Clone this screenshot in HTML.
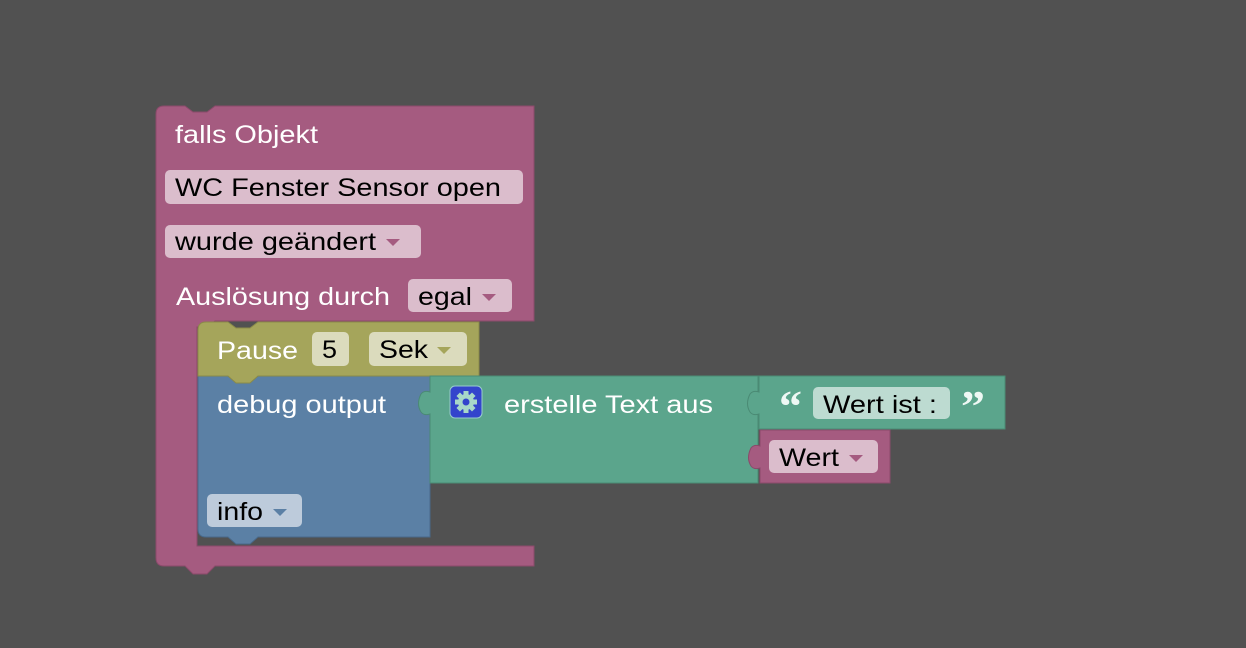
<!DOCTYPE html>
<html><head><meta charset="utf-8">
<style>
html,body{margin:0;padding:0;background:#515151;width:1246px;height:648px;overflow:hidden}
svg text{font-family:"Liberation Sans",sans-serif;font-size:25px}
</style></head><body>
<svg width="1246" height="648" viewBox="0 0 1246 648" xmlns="http://www.w3.org/2000/svg">
<!-- outer pink C block -->
<path d="M164,106 L185,106 L193,112 L207,112 L215,106 L534,106 L534,321 L215,321 L207,327 L197,327 L197,546 L534,546 L534,566 L215,566 L207,574 L193,574 L185,566 L164,566 Q156,566 156,558 L156,114 Q156,106 164,106 Z" fill="#a55b80" stroke="#8a4a6a" stroke-width="1"/>
<text x="175" y="143" fill="#fff" textLength="143" lengthAdjust="spacingAndGlyphs">falls Objekt</text>
<rect x="165" y="170" width="358" height="34" rx="5" fill="#dbbdcc"/>
<text x="175" y="196" fill="#000" textLength="326" lengthAdjust="spacingAndGlyphs">WC Fenster Sensor open</text>
<rect x="165" y="225" width="256" height="33" rx="5" fill="#dbbdcc"/>
<text x="175" y="250" fill="#000" textLength="201" lengthAdjust="spacingAndGlyphs">wurde geändert</text>
<path d="M386,239 L400,239 L393,246 Z" fill="#a55b80"/>
<text x="176" y="305" fill="#fff" textLength="214" lengthAdjust="spacingAndGlyphs">Auslösung durch</text>
<rect x="408" y="279" width="104" height="33" rx="5" fill="#dbbdcc"/>
<text x="418" y="305" fill="#000" textLength="54" lengthAdjust="spacingAndGlyphs">egal</text>
<path d="M482,294 L496,294 L489,301 Z" fill="#a55b80"/>

<!-- debug block -->
<path d="M198,376 L228,376 L236,382 L250,382 L258,376 L430,376 L430,537 L258,537 L250,544 L236,544 L228,537 L206,537 Q198,537 198,529 Z" fill="#5b80a5" stroke="#48698a" stroke-width="1"/>
<text x="217" y="413" fill="#fff" textLength="169" lengthAdjust="spacingAndGlyphs">debug output</text>
<rect x="207" y="494" width="95" height="33" rx="5" fill="#bdcbdb"/>
<text x="217" y="520" fill="#000" textLength="46" lengthAdjust="spacingAndGlyphs">info</text>
<path d="M273,509 L287,509 L280,516 Z" fill="#5b80a5"/>

<!-- pause block -->
<path d="M206,322 L228,322 L236,328 L250,328 L258,322 L479,322 L479,376 L258,376 L250,383 L236,383 L228,376 L198,376 L198,330 Q198,322 206,322 Z" fill="#a5a55b" stroke="#8a8a48" stroke-width="1"/>
<text x="217" y="359" fill="#fff" textLength="81" lengthAdjust="spacingAndGlyphs">Pause</text>
<rect x="312" y="332" width="37" height="34" rx="5" fill="#dbdbbd"/>
<text x="322" y="358" fill="#000" textLength="15" lengthAdjust="spacingAndGlyphs">5</text>
<rect x="369" y="332" width="98" height="34" rx="5" fill="#dbdbbd"/>
<text x="379" y="358" fill="#000" textLength="49" lengthAdjust="spacingAndGlyphs">Sek</text>
<path d="M437,347 L451,347 L444,354 Z" fill="#a5a55b"/>

<!-- text join block -->
<path d="M430,376 L758,376 L758,483 L430,483 L430,414 Q424,416 421,412 Q416,404 421,394 Q424,390 430,392 Z" fill="#5ba58c" stroke="#4a8a74" stroke-width="1"/>
<rect x="450" y="386" width="32" height="32" rx="5" fill="#3344cc" stroke="#9cc" stroke-width="1"/>
<g transform="translate(466,402)" fill="#a8d8c8">
<circle r="8"/>
<rect x="-2.5" y="-11" width="5" height="22"/>
<rect x="-11" y="-2.5" width="22" height="5"/>
<rect x="-2.5" y="-11" width="5" height="22" transform="rotate(45)"/>
<rect x="-2.5" y="-11" width="5" height="22" transform="rotate(-45)"/>
<circle r="3.5" fill="#3344cc"/>
</g>
<text x="504" y="413" fill="#fff" textLength="209" lengthAdjust="spacingAndGlyphs">erstelle Text aus</text>

<!-- text literal block -->
<path d="M759,376 L1005,376 L1005,429 L759,429 L759,414 Q753,416 750,412 Q745,404 750,394 Q753,390 759,392 Z" fill="#5ba58c" stroke="#4a8a74" stroke-width="1"/>
<text x="779" y="421" fill="#eef8f4" style="font-size:44px;font-family:'Liberation Serif',serif;font-weight:bold" textLength="23" lengthAdjust="spacingAndGlyphs">“</text>
<rect x="813" y="387" width="137" height="32" rx="5" fill="#bddbd1"/>
<text x="823" y="413" fill="#000" textLength="114" lengthAdjust="spacingAndGlyphs">Wert ist :</text>
<text x="961" y="421" fill="#eef8f4" style="font-size:44px;font-family:'Liberation Serif',serif;font-weight:bold" textLength="24" lengthAdjust="spacingAndGlyphs">”</text>

<!-- Wert block -->
<path d="M760,430 L890,430 L890,483 L760,483 L760,468 Q754,470 751,466 Q746,458 751,448 Q754,444 760,446 Z" fill="#a55b80" stroke="#8a4a6a" stroke-width="1"/>
<rect x="769" y="440" width="109" height="33" rx="5" fill="#dbbdcc"/>
<text x="779" y="466" fill="#000" textLength="60" lengthAdjust="spacingAndGlyphs">Wert</text>
<path d="M849,455 L863,455 L856,462 Z" fill="#a55b80"/>
</svg>
</body></html>
